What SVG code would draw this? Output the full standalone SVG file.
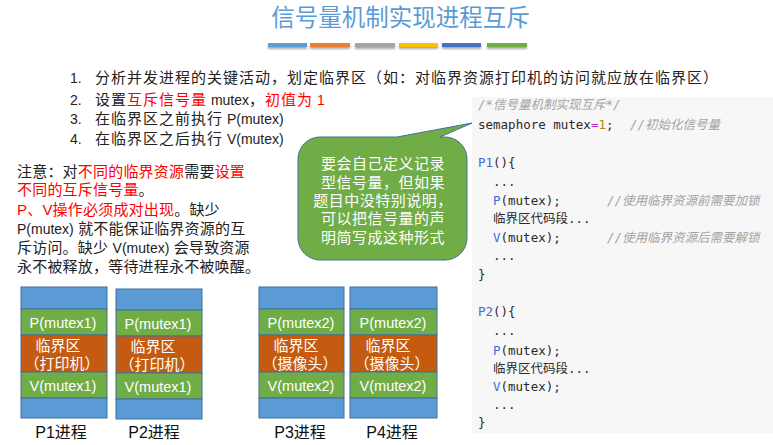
<svg xmlns="http://www.w3.org/2000/svg" width="773" height="445" viewBox="0 0 773 445">
<defs>
<filter id="sh" x="-10%" y="-100%" width="120%" height="400%">
<feDropShadow dx="0" dy="2" stdDeviation="1.2" flood-color="#000" flood-opacity="0.35"/>
</filter>
</defs>
<style>
.cjk{font-family:"Liberation Sans","Noto Sans CJK SC",sans-serif;}
.t{font-size:15px;fill:#222;letter-spacing:1px;}
.lat{font-size:14px;letter-spacing:0;}
.red{fill:#FF0000;}
.code{font-family:"DejaVu Sans Mono","Liberation Mono","Noto Sans CJK SC",monospace;font-size:12.5px;fill:#2a2a2a;}
.cm{fill:#A3A3A3;font-style:italic;}
.kw{fill:#4A67D6;}
.eq{fill:#C428C4;}
.num{fill:#B8860B;}
.blue{fill:#5B9BD5;stroke:#41719C;stroke-width:1;}
.green{fill:#70AD47;stroke:#41719C;stroke-width:1;}
.orange{fill:#C55A11;stroke:#41719C;stroke-width:1;}
.bt{font-family:"Liberation Sans","Noto Sans CJK SC",sans-serif;font-size:14.5px;fill:#fff;text-anchor:middle;}
.bc{font-family:"Liberation Sans","Noto Sans CJK SC",sans-serif;font-size:15px;fill:#fff;text-anchor:middle;}
.lbl{font-family:"Liberation Sans","Noto Sans CJK SC",sans-serif;font-size:16px;fill:#111;text-anchor:middle;}
</style>
<rect width="773" height="445" fill="#fff"/>

<g id="title">
<text x="400.5" y="26" class="cjk" font-size="23.5" fill="#5B9BD5" text-anchor="middle">信号量机制实现进程互斥</text>
<g filter="url(#sh)">
<rect x="268" y="43" width="39" height="4" fill="#5B9BD5"/>
<rect x="310" y="43" width="40" height="4" fill="#ED7D31"/>
<rect x="355" y="43" width="40" height="4" fill="#A5A5A5"/>
<rect x="399" y="43" width="39" height="4" fill="#FFC000"/>
<rect x="442" y="43" width="39" height="4" fill="#4472C4"/>
<rect x="487" y="43" width="40" height="4" fill="#70AD47"/>
</g>
</g>

<g id="steps" class="cjk t">
<text x="70" y="82.5"><tspan class="lat">1.</tspan><tspan x="95">分析并发进程的关键活动，划定临界区（如：对临界资源打印机的访问就应放在临界区）</tspan></text>
<text x="70" y="104.5"><tspan class="lat">2.</tspan><tspan x="95">设置</tspan><tspan class="red">互斥信号量</tspan><tspan class="lat"> mutex</tspan>，<tspan class="red">初值为</tspan><tspan class="lat red"> 1</tspan></text>
<text x="70" y="123.5"><tspan class="lat">3.</tspan><tspan x="95">在临界区之前执行</tspan><tspan class="lat"> P(mutex)</tspan></text>
<text x="70" y="143.5"><tspan class="lat">4.</tspan><tspan x="95">在临界区之后执行</tspan><tspan class="lat"> V(mutex)</tspan></text>
</g>

<g id="note" class="cjk t" style="letter-spacing:0.2px">
<text x="17" y="176.5">注意：对<tspan class="red">不同的临界资源</tspan>需要<tspan class="red">设置</tspan></text>
<text x="17" y="195"><tspan class="red">不同的互斥信号量</tspan>。</text>
<text x="17" y="214.5"><tspan class="red">P、V操作必须成对出现</tspan>。缺少</text>
<text x="17" y="233.5"><tspan class="lat">P(mutex)</tspan> 就不能保证临界资源的互</text>
<text x="17" y="252.5">斥访问。缺少 <tspan class="lat">V(mutex)</tspan> 会导致资源</text>
<text x="17" y="271.5">永不被释放，等待进程永不被唤醒。</text>
</g>

<g id="code">
<rect x="472" y="97" width="301" height="336" fill="#F7F7F7"/>
<text class="code cm" x="478" y="109">/*信号量机制实现互斥*/</text>
<text class="code" x="478" y="129">semaphore mutex<tspan class="eq">=</tspan><tspan class="num">1</tspan>;</text>
<text class="code cm" x="630" y="129">//初始化信号量</text>
<text class="code" x="478" y="167"><tspan class="kw">P1</tspan>(){</text>
<text class="code" x="493" y="185.5">...</text>
<text class="code" x="493" y="204.5"><tspan class="kw">P</tspan>(mutex);</text>
<text class="code cm" x="607" y="204.5">//使用临界资源前需要加锁</text>
<text class="code" x="493" y="223">临界区代码段...</text>
<text class="code" x="493" y="241.5"><tspan class="kw">V</tspan>(mutex);</text>
<text class="code cm" x="607" y="241.5">//使用临界资源后需要解锁</text>
<text class="code" x="493" y="260">...</text>
<text class="code" x="478" y="278.5">}</text>
<text class="code" x="478" y="316"><tspan class="kw">P2</tspan>(){</text>
<text class="code" x="493" y="334.5">...</text>
<text class="code" x="493" y="354.5"><tspan class="kw">P</tspan>(mutex);</text>
<text class="code" x="493" y="373">临界区代码段...</text>
<text class="code" x="493" y="391"><tspan class="kw">V</tspan>(mutex);</text>
<text class="code" x="493" y="409">...</text>
<text class="code" x="478" y="427">}</text>
</g>

<g id="callout">
<path d="M320,137 L397,137 L472,123 L440,137 L445,137 A22,22 0 0 1 467,159 L467,238 A22,22 0 0 1 445,260 L320,260 A22,22 0 0 1 298,238 L298,159 A22,22 0 0 1 320,137 Z" fill="#70AD47" stroke="#41719C" stroke-width="1"/>
<g class="cjk" font-size="15" fill="#fff" text-anchor="middle" style="letter-spacing:0.5px">
<text x="383" y="168.5">要会自己定义记录</text>
<text x="383" y="187.5">型信号量，但如果</text>
<text x="383" y="205.5">题目中没特别说明，</text>
<text x="383" y="223.5">可以把信号量的声</text>
<text x="383" y="242.5">明简写成这种形式</text>
</g>
</g>

<g id="proc-p1">
<rect class="blue" x="21" y="287" width="86" height="22"/>
<rect class="green" x="21" y="309" width="86" height="26"/>
<rect class="orange" x="21" y="335" width="86" height="37"/>
<rect class="green" x="21" y="372" width="86" height="26"/>
<rect class="blue" x="21" y="398" width="86" height="20"/>
<text class="bt" x="63" y="328">P(mutex1)</text>
<text class="bc" x="58" y="350.5">临界区</text>
<text class="bc" x="62" y="368.5">（打印机）</text>
<text class="bt" x="63" y="391">V(mutex1)</text>
<text class="lbl" x="61" y="438">P1进程</text>
</g>

<g id="proc-p2">
<rect class="blue" x="116" y="289" width="86" height="21"/>
<rect class="green" x="116" y="310" width="86" height="26"/>
<rect class="orange" x="116" y="336" width="86" height="37"/>
<rect class="green" x="116" y="373" width="86" height="26"/>
<rect class="blue" x="116" y="399" width="86" height="20"/>
<text class="bt" x="158" y="329">P(mutex1)</text>
<text class="bc" x="153" y="351.5">临界区</text>
<text class="bc" x="157" y="369.5">（打印机）</text>
<text class="bt" x="158" y="392">V(mutex1)</text>
<text class="lbl" x="154" y="438">P2进程</text>
</g>

<g id="proc-p3">
<rect class="blue" x="259" y="287" width="85" height="22"/>
<rect class="green" x="259" y="309" width="85" height="26"/>
<rect class="orange" x="259" y="335" width="85" height="37"/>
<rect class="green" x="259" y="372" width="85" height="26"/>
<rect class="blue" x="259" y="398" width="85" height="20"/>
<text class="bt" x="301" y="328">P(mutex2)</text>
<text class="bc" x="296" y="350.5">临界区</text>
<text class="bc" x="300" y="368.5">（摄像头）</text>
<text class="bt" x="301" y="391">V(mutex2)</text>
<text class="lbl" x="300" y="438">P3进程</text>
</g>

<g id="proc-p4">
<rect class="blue" x="350" y="287" width="87" height="22"/>
<rect class="green" x="350" y="309" width="87" height="26"/>
<rect class="orange" x="350" y="335" width="87" height="37"/>
<rect class="green" x="350" y="372" width="87" height="26"/>
<rect class="blue" x="350" y="398" width="87" height="20"/>
<text class="bt" x="393" y="328">P(mutex2)</text>
<text class="bc" x="388" y="350.5">临界区</text>
<text class="bc" x="392" y="368.5">（摄像头）</text>
<text class="bt" x="393" y="391">V(mutex2)</text>
<text class="lbl" x="392" y="438">P4进程</text>
</g>

<g id="connectors"/>
</svg>
